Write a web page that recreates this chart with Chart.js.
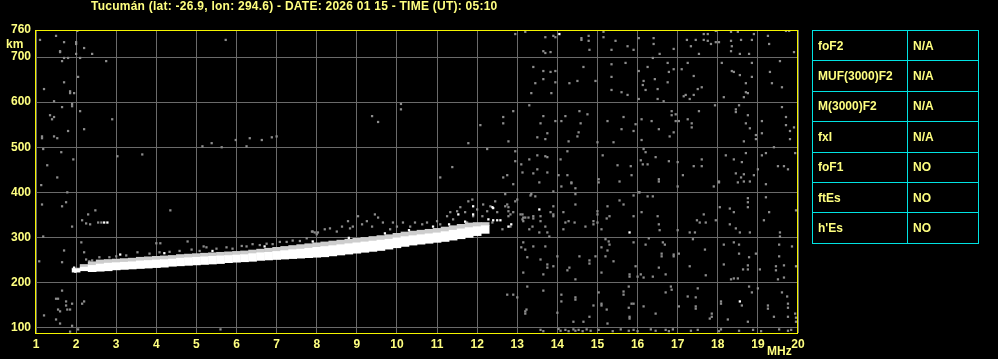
<!DOCTYPE html>
<html>
<head>
<meta charset="utf-8">
<script src="https://cdn.jsdelivr.net/npm/chart.js@4.4.1/dist/chart.umd.min.js"></script>
<style>
  html, body { margin: 0; padding: 0; background: #000; }
  canvas { display: block; }
</style>
</head>
<body>
<canvas id="ionogram" width="998" height="359"></canvas>
<script>
const stationTitle = 'Tucumán (lat: -26.9, lon: 294.6) - DATE: 2026 01 15 - TIME (UT): 05:10'

const freqTicks = [1, 2, 3, 4, 5, 6, 7, 8, 9, 10, 11, 12, 13, 14, 15, 16, 17, 18, 19, 20]
const heightTicks = [100, 200, 300, 400, 500, 600, 700, 760]

const paramNames = ['foF2', 'MUF(3000)F2', 'M(3000)F2', 'fxI', 'foF1', 'ftEs', "h'Es"]
const paramValues = ['N/A', 'N/A', 'N/A', 'N/A', 'NO', 'NO', 'NO']

// F trace, echo band (MHz -> km): solid lower part and weaker upper part
const traceFreq = [2.0, 2.2, 2.4, 2.6, 2.8, 3.0, 3.2, 3.4, 3.6, 3.8, 4.0, 4.2, 4.4, 4.6, 4.8, 5.0, 5.2, 5.4, 5.6, 5.8,
  6.0, 6.2, 6.4, 6.6, 6.8, 7.0, 7.2, 7.4, 7.6, 7.8, 8.0, 8.2, 8.4, 8.6, 8.8, 9.0, 9.2, 9.4, 9.6, 9.8,
  10.0, 10.2, 10.4, 10.6, 10.8, 11.0, 11.2, 11.4, 11.6, 11.8, 12.0, 12.2]
const traceLow = [223, 226, 224, 225, 226, 228, 229, 230, 231, 232, 233, 234, 236, 237, 238, 239, 240, 241, 242, 244,
  245, 246, 247, 249, 250, 251, 252, 253, 254, 255, 256, 257, 259, 261, 263, 265, 267, 269, 271, 274,
  277, 280, 283, 285, 287, 289, 291, 294, 297, 300, 304, 309]
const traceMid = [230, 234, 238, 241, 243, 244, 245, 246, 248, 249, 250, 251, 252, 254, 255, 256, 257, 258, 259, 260,
  261, 262, 264, 266, 267, 269, 271, 273, 274, 276, 278, 280, 282, 284, 286, 288, 290, 292, 294, 296,
  299, 302, 304, 306, 308, 310, 313, 316, 319, 322, 324, 326]
const traceHigh = [232, 240, 246, 250, 251, 252, 253, 254, 256, 257, 258, 259, 260, 262, 263, 264, 265, 266, 267, 268,
  269, 270, 272, 274, 276, 278, 280, 282, 284, 286, 288, 290, 292, 294, 296, 298, 300, 302, 304, 306,
  309, 312, 314, 316, 318, 320, 323, 326, 329, 332, 333, 333]

// isolated strong (white) returns
const strongDots = [[14.05, 751], [13.55, 362], [15.8, 311], [18.55, 158], [2.7, 333], [2.78, 333], [12.4, 365],
  [12.4, 338], [12.5, 338], [12.58, 338], [12.85, 329], [12.78, 324], [11.53, 351], [11.9, 369], [11.9, 351],
  [12.28, 340], [12.38, 367], [1.95, 233], [1.98, 224], [3.1, 262], [4.2, 265], [5.4, 270], [6.7, 280],
  [7.9, 291], [8.8, 299], [9.7, 309], [10.3, 316], [10.9, 324], [11.3, 329], [11.7, 335]]

// weak echoes around the trace
const weakEcho = [[2.25, 251], [2.4, 249], [2.58, 256], [2.83, 256], [3.0, 258], [3.25, 260], [3.53, 267], [3.83, 264],
  [4.08, 267], [4.33, 268], [4.58, 270], [4.88, 273], [5.08, 270], [5.25, 278], [5.5, 275], [5.75, 278], [5.9, 275],
  [6.13, 281], [6.25, 280], [6.4, 285], [6.58, 283], [6.75, 286], [6.9, 285], [7.08, 290], [7.25, 290], [7.4, 293],
  [7.58, 292], [7.75, 298], [7.88, 313], [7.95, 311], [8.0, 307], [7.9, 313], [8.03, 311], [8.2, 318], [8.33, 320],
  [8.5, 313], [8.63, 324], [8.78, 336], [8.83, 320], [8.9, 324], [9.03, 347], [9.13, 329], [9.25, 336], [9.38, 324],
  [9.45, 351], [9.53, 344], [9.65, 333], [9.83, 318], [9.9, 333], [10.0, 324], [10.15, 333], [10.33, 324], [10.45, 333],
  [10.63, 329], [10.75, 333], [11.0, 336], [11.08, 329], [11.25, 347], [11.33, 356], [11.4, 340], [11.5, 358],
  [11.58, 367], [11.7, 356], [11.75, 333], [11.78, 380], [11.88, 384], [11.9, 347], [12.0, 362], [12.13, 347],
  [12.15, 373], [12.25, 358], [12.33, 369], [12.38, 333], [12.45, 380], [12.5, 356], [12.63, 318], [12.7, 369],
  [12.78, 347], [12.83, 324], [12.9, 356], [13.0, 384], [13.08, 351], [13.13, 340], [13.2, 344], [13.33, 393],
  [13.4, 347], [13.58, 336], [13.7, 324], [13.75, 311], [13.83, 356], [12.7, 396], [12.75, 373], [12.78, 367],
  [12.78, 358], [12.83, 351], [12.95, 380], [2.13, 289], [5.18, 280], [2.2, 267], [2.33, 247]]

// background noise
const noiseDots = [[12.95, 751], [13.2, 756], [13.7, 744], [13.9, 747], [13.95, 744], [14.6, 742], [14.6, 738],
  [14.78, 747], [14.78, 736], [15.15, 756], [15.15, 744], [15.45, 736], [16.03, 742], [16.4, 742], [16.4, 729],
  [13.65, 713], [13.7, 709], [13.83, 711], [14.8, 716], [15.35, 716], [15.75, 724], [15.9, 716], [16.55, 707],
  [16.9, 718], [17.23, 738], [17.33, 724], [17.45, 738], [17.65, 751], [17.75, 751], [17.75, 736], [17.83, 729],
  [17.95, 758], [17.95, 733], [18.03, 733], [17.65, 738], [17.53, 707], [18.33, 756], [18.5, 756], [18.33, 736],
  [18.35, 724], [18.33, 713], [18.55, 707], [18.58, 738], [18.78, 707], [18.85, 738], [18.9, 751], [19.25, 747],
  [19.28, 729], [19.7, 758], [19.78, 758], [19.9, 711],
  [13.4, 678], [13.65, 669], [13.83, 667], [13.95, 669], [13.65, 651], [13.45, 642], [13.35, 620], [13.85, 620],
  [13.95, 644], [14.3, 642], [14.5, 647], [14.65, 678], [14.95, 647], [15.35, 684], [15.7, 687], [15.35, 656],
  [15.35, 627], [15.6, 622], [15.75, 616], [16.03, 669], [16.25, 678], [16.15, 647], [16.13, 638], [16.2, 627],
  [16.38, 698], [16.43, 651], [16.5, 629], [16.75, 687], [16.78, 667], [16.9, 673], [16.75, 644], [17.1, 673],
  [17.25, 687], [17.4, 658], [17.15, 613], [17.2, 616], [17.3, 607], [17.4, 616], [17.5, 629], [17.6, 633],
  [16.03, 607], [16.5, 607], [16.65, 602], [18.1, 687], [18.35, 669], [18.4, 667], [18.55, 660], [18.7, 642],
  [18.85, 656], [18.85, 687], [18.7, 622], [18.75, 620], [18.65, 611], [18.15, 611], [19.3, 667], [19.35, 642],
  [19.55, 691], [19.6, 633],
  [12.9, 580], [12.65, 567], [12.65, 553], [12.78, 513], [13.3, 593], [13.65, 569], [13.58, 553], [13.5, 522],
  [13.7, 518], [13.75, 531], [13.95, 558], [14.1, 558], [14.2, 569], [14.28, 513], [14.5, 524], [14.53, 533],
  [14.55, 580], [14.58, 553], [14.75, 573], [15.0, 511], [15.25, 558], [15.4, 511], [15.6, 540], [15.65, 567],
  [15.9, 536], [15.95, 551], [16.1, 562], [16.1, 516], [16.35, 558], [16.53, 540], [16.8, 524], [16.85, 580],
  [16.85, 571], [16.95, 573], [16.95, 558], [17.03, 558], [16.9, 533], [17.25, 562], [17.35, 553], [17.35, 544],
  [17.53, 580], [17.93, 593], [18.45, 584], [18.45, 578], [18.53, 593], [18.75, 571], [18.7, 553], [18.8, 542],
  [18.95, 527], [18.95, 518], [18.65, 513], [19.1, 558], [19.1, 531], [19.6, 589], [19.7, 567], [19.7, 549],
  [19.9, 544], [19.8, 536], [19.8, 518],
  [12.95, 491], [12.95, 469], [12.75, 438], [12.65, 433], [13.1, 462], [13.13, 444], [13.3, 473], [13.4, 442],
  [13.5, 482], [13.5, 451], [13.7, 480], [13.75, 478], [13.75, 444], [14.08, 473], [14.03, 438], [14.25, 438],
  [14.25, 491], [14.35, 422], [15.03, 429], [15.03, 422], [15.13, 482], [15.5, 460], [15.83, 458], [15.85, 438],
  [16.08, 471], [16.13, 462], [16.25, 462], [16.15, 496], [16.2, 489], [16.45, 478], [16.53, 429], [16.78, 469],
  [17.0, 467], [17.13, 438], [17.4, 458], [17.6, 473], [17.6, 458], [18.03, 424], [18.2, 482], [18.4, 473],
  [18.45, 442], [18.6, 467], [18.65, 440], [18.58, 433], [18.7, 487], [18.8, 424], [18.9, 438], [19.0, 451],
  [19.1, 482], [19.2, 487], [19.4, 500], [19.5, 458], [19.65, 458], [19.75, 451], [19.93, 487],
  [12.9, 418], [13.55, 422], [14.1, 413], [14.35, 420], [14.45, 409], [15.55, 424], [16.03, 400], [16.53, 424],
  [17.0, 413], [17.9, 413], [18.03, 422], [18.5, 422], [18.65, 424], [19.2, 418],
  [13.13, 351], [13.15, 344], [13.15, 336], [13.35, 396], [13.45, 391], [13.28, 344], [13.4, 342], [13.58, 347],
  [13.38, 324], [13.3, 318], [13.55, 311], [13.9, 369], [13.9, 351], [13.9, 347], [13.9, 402], [13.8, 302],
  [14.15, 356], [14.2, 333], [14.28, 336], [14.15, 318], [14.45, 396], [14.45, 373], [14.43, 333], [14.7, 324],
  [14.9, 336], [14.9, 329], [15.0, 358], [15.0, 351], [15.0, 333], [15.1, 318], [15.23, 342], [15.25, 369],
  [15.3, 347], [15.55, 382], [15.65, 373], [15.9, 347], [15.9, 393], [16.05, 400], [16.25, 391], [16.38, 391],
  [16.1, 356], [16.5, 347], [16.53, 329], [16.55, 316], [17.0, 316], [17.3, 311], [17.43, 311], [17.48, 338],
  [17.55, 333], [17.7, 333], [17.65, 351], [17.95, 338], [18.05, 367], [18.3, 364], [18.4, 356], [18.3, 329],
  [18.45, 320], [18.55, 311], [18.75, 387], [18.75, 378], [18.75, 367], [18.8, 311], [19.28, 356], [19.15, 338],
  [19.2, 389], [19.55, 311], [19.55, 302], [19.95, 360],
  [13.15, 289], [13.1, 278], [13.2, 273], [13.4, 280], [13.25, 256], [13.58, 251], [13.7, 280], [13.75, 240],
  [13.75, 233], [13.15, 222], [13.65, 218], [13.9, 236], [14.0, 258], [14.25, 227], [14.3, 233], [14.45, 207],
  [14.55, 258], [14.8, 249], [14.8, 242], [14.95, 258], [15.1, 278], [15.2, 296], [15.28, 291], [15.3, 284],
  [15.25, 271], [15.2, 258], [15.1, 222], [15.4, 247], [15.8, 218], [15.8, 213], [15.9, 289], [15.95, 236],
  [16.0, 213], [16.08, 218], [16.15, 211], [16.2, 284], [16.38, 213], [16.28, 298], [16.6, 264], [16.6, 258],
  [16.63, 289], [16.68, 284], [16.7, 218], [16.53, 233], [16.9, 262], [16.9, 258], [17.03, 264], [17.3, 236],
  [17.38, 296], [17.68, 273], [17.7, 216], [18.15, 284], [18.15, 240], [18.33, 207], [18.4, 209], [18.5, 209],
  [18.4, 289], [18.53, 284], [18.53, 264], [18.63, 229], [18.75, 229], [18.78, 256], [18.75, 238], [18.95, 264],
  [19.05, 229], [19.53, 258], [19.53, 284], [19.45, 236], [19.45, 227], [19.65, 238], [19.65, 211], [19.5, 207],
  [19.85, 280], [19.95, 236],
  [12.75, 173], [12.9, 173], [13.0, 167], [13.25, 191], [13.2, 136], [13.2, 131], [13.23, 140], [13.65, 182],
  [14.0, 133], [14.1, 173], [14.1, 158], [14.45, 167], [14.45, 162], [14.4, 113], [14.65, 113], [14.8, 124],
  [15.03, 178], [14.9, 149], [15.1, 153], [15.1, 149], [15.23, 140], [15.25, 109], [15.65, 180], [15.65, 173],
  [15.78, 191], [15.78, 144], [15.85, 153], [15.9, 153], [15.8, 124], [15.8, 120], [16.15, 147], [16.45, 131],
  [16.7, 178], [16.83, 191], [16.85, 184], [17.03, 147], [17.25, 169], [17.45, 167], [17.45, 147], [17.45, 142],
  [17.5, 187], [17.8, 120], [17.85, 131], [17.85, 124], [18.08, 158], [18.08, 153], [18.25, 118], [18.6, 149],
  [18.78, 191], [18.85, 178], [19.0, 187], [18.75, 113], [19.25, 149], [19.25, 142], [19.4, 124], [19.6, 178],
  [19.73, 169], [19.75, 153], [19.75, 144], [19.93, 131], [19.95, 122], [19.95, 113], [19.75, 124],
  [13.58, 95], [13.65, 92], [14.03, 97], [14.08, 93], [14.2, 95], [14.28, 92], [14.4, 96], [14.45, 93],
  [14.53, 95], [14.63, 92], [14.73, 96], [14.83, 93], [15.03, 95], [15.38, 92], [15.58, 96], [15.78, 93],
  [15.9, 95], [16.0, 92], [16.33, 96], [16.45, 93], [16.7, 95], [16.78, 92], [16.88, 96], [17.33, 93],
  [17.5, 95], [18.03, 92], [18.08, 96], [18.53, 93], [18.88, 95], [19.08, 92], [19.53, 96], [19.75, 93], [19.83, 95],
  [2.03, 758], [1.5, 747], [1.1, 738], [1.7, 733], [2.0, 733], [2.0, 729], [2.2, 720], [1.6, 713], [1.6, 711],
  [2.4, 707], [2.0, 707], [1.7, 698], [1.8, 698], [1.65, 691], [2.1, 698], [2.75, 691], [2.05, 656], [1.7, 644],
  [1.2, 629], [1.85, 624], [1.85, 620], [1.95, 620], [1.45, 602], [1.9, 596], [1.9, 591], [1.65, 589], [2.1, 580],
  [1.35, 571], [1.45, 567], [1.4, 562], [2.9, 562], [1.8, 536], [2.2, 540], [1.15, 524], [1.15, 520], [1.45, 524],
  [1.53, 520], [1.18, 496], [1.63, 489], [1.28, 460], [1.93, 473], [1.53, 433], [1.13, 416], [1.78, 400],
  [1.15, 373], [1.65, 369], [1.75, 378], [2.3, 351], [2.48, 360], [2.15, 338], [2.25, 331], [2.35, 329],
  [2.55, 333], [2.63, 333], [1.9, 324], [1.7, 271], [1.65, 245], [4.35, 360], [4.0, 287], [4.1, 287],
  [4.78, 291], [1.18, 302], [1.08, 247], [1.65, 182], [1.5, 164], [1.55, 164], [1.2, 127], [1.75, 158],
  [1.9, 153], [2.2, 158], [2.15, 153], [1.75, 149], [1.55, 140], [1.6, 136], [1.78, 140], [1.85, 140],
  [1.5, 118], [1.6, 109], [1.9, 104], [1.85, 91], [2.05, 96], [5.6, 96],
  [5.73, 738], [3.03, 480], [3.65, 484], [5.15, 502], [5.38, 509], [5.63, 500], [5.98, 516], [6.25, 502],
  [6.33, 520], [6.63, 516], [6.88, 522], [7.0, 524], [9.38, 569], [9.53, 556], [10.1, 596], [10.1, 584],
  [11.38, 456], [11.78, 509], [11.08, 433], [12.25, 496], [12.08, 549]]

const textColor = '#ffff80'
const frameColor = '#f4f400'
const gridColor = '#6a6a6a'
const labelFont = { family: 'Liberation Sans', size: 12, weight: 'bold' }

const toPoints = (list) => list.map(p => ({ x: p[0], y: p[1] }))

const ionoDecor = {
  id: 'ionoDecor',
  beforeDraw(chart) {
    const c = chart.ctx
    c.save()
    c.fillStyle = '#000'
    c.fillRect(0, 0, chart.width, chart.height)
    c.restore()
  },
  afterDraw(chart) {
    const c = chart.ctx
    const a = chart.chartArea
    c.save()
    // frame
    c.strokeStyle = frameColor
    c.lineWidth = 1
    c.strokeRect(Math.round(a.left) - 0.5, Math.round(a.top) + 0.5,
      Math.round(a.right - a.left), Math.round(a.bottom - a.top))

    c.fillStyle = textColor
    c.font = 'bold 12px "Liberation Sans"'
    c.textBaseline = 'middle'
    c.textAlign = 'left'
    c.letterSpacing = '0.25px'
    c.fillText(stationTitle, 91, 7)
    c.letterSpacing = '0px'
    c.fillText('km', 6, 45)
    c.fillText('MHz', 767, 352)

    // parameter table
    const tl = 812, tm = 907, tr = 978, tt = 30, rh = 30.4
    const tb = Math.round(tt + paramNames.length * rh) + 0.5
    c.strokeStyle = '#00e2e2'
    c.lineWidth = 1
    c.beginPath()
    for (let i = 0; i <= paramNames.length; i++) {
      const y = Math.round(tt + i * rh) + 0.5
      c.moveTo(tl, y)
      c.lineTo(tr + 1, y)
    }
    ;[tl, tm, tr].forEach((x) => {
      c.moveTo(x + 0.5, tt + 0.5)
      c.lineTo(x + 0.5, tb)
    })
    c.stroke()

    c.fillStyle = textColor
    paramNames.forEach((name, i) => {
      const y = tt + i * rh + rh / 2 + 1
      c.fillText(name, tl + 6, y)
      c.fillText(paramValues[i], tm + 6, y)
    })
    c.restore()
  }
}

const ctx = document.getElementById('ionogram').getContext('2d')

const ionogram = new Chart(ctx, {
  type: 'scatter',
  data: {
    datasets: [
      {
        label: 'strong',
        data: toPoints(strongDots),
        backgroundColor: '#ffffff',
        pointStyle: 'rect',
        pointRadius: 1.6,
        pointBorderWidth: 0
      },
      {
        type: 'bar',
        label: 'F trace core',
        data: traceFreq.map((f, i) => ({ x: f, y: [traceLow[i], traceMid[i]] })),
        backgroundColor: '#ffffff',
        borderWidth: 0,
        barThickness: 8,
        grouped: false
      },
      {
        type: 'bar',
        label: 'F trace upper',
        data: traceFreq.map((f, i) => ({ x: f, y: [traceMid[i], traceHigh[i]] })),
        backgroundColor: '#cdcdcd',
        borderWidth: 0,
        barThickness: 8,
        grouped: false
      },
      {
        label: 'weak',
        data: toPoints(weakEcho),
        backgroundColor: '#8c8c8c',
        pointStyle: 'rect',
        pointRadius: 1.6,
        pointBorderWidth: 0
      },
      {
        label: 'noise',
        data: toPoints(noiseDots),
        backgroundColor: '#8c8c8c',
        pointStyle: 'rect',
        pointRadius: 1.6,
        pointBorderWidth: 0
      }
    ]
  },
  options: {
    responsive: false,
    animation: false,
    devicePixelRatio: 1,
    layout: {
      padding: { top: 30, right: 200, left: 0, bottom: 0 }
    },
    scales: {
      x: {
        type: 'linear',
        min: 1,
        max: 20,
        offset: false,
        afterBuildTicks: (s) => { s.ticks = freqTicks.map(v => ({ value: v })) },
        afterFit: (s) => { s.height = 26 },
        grid: { color: gridColor, drawTicks: false, offset: false },
        border: { display: false },
        ticks: { color: textColor, font: labelFont, padding: 4, autoSkip: false, maxRotation: 0 }
      },
      y: {
        type: 'linear',
        min: 88,
        max: 760,
        afterBuildTicks: (s) => { s.ticks = heightTicks.map(v => ({ value: v })) },
        afterFit: (s) => { s.width = 36 },
        grid: { color: gridColor, drawTicks: false },
        border: { display: false },
        ticks: { color: textColor, font: labelFont, padding: 5 }
      }
    },
    plugins: {
      legend: { display: false },
      tooltip: { enabled: false },
      title: { display: false }
    }
  },
  plugins: [ionoDecor]
})
</script>
</body>
</html>
